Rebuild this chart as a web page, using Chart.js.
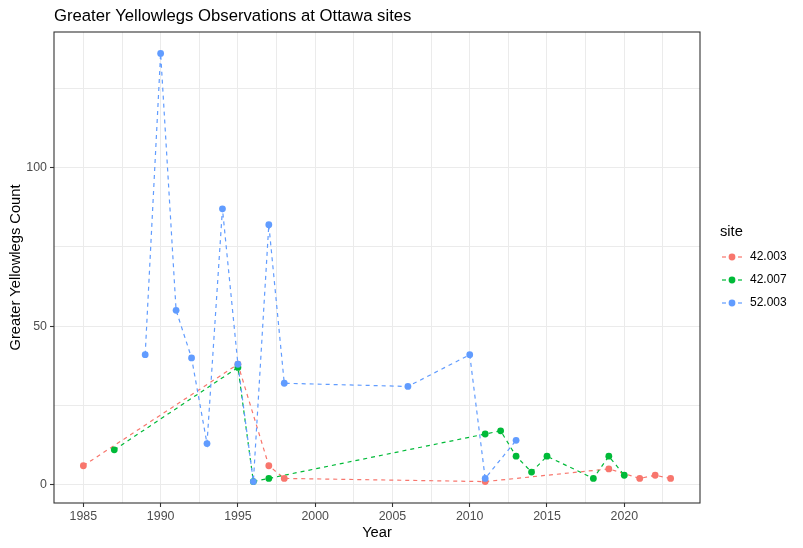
<!DOCTYPE html>
<html>
<head>
<meta charset="utf-8">
<script src="https://cdn.jsdelivr.net/npm/chart.js@4.4.1/dist/chart.umd.min.js"></script>
<style>
  body { margin: 0; background: #ffffff; }
  canvas { display: block; }
</style>
</head>
<body>
<canvas id="chartYellowlegs" width="803" height="548"></canvas>
<script>
// dados
const sites = ['42.003', '42.007', '52.003'];
const siteColors = ['#F8766D', '#00BA38', '#619CFF'];

const years42003 = [1985, 1995, 1997, 1998, 2011, 2019, 2021, 2022, 2023];
const counts42003 = [6, 38, 6, 2, 1, 5, 2, 3, 2];

const years42007 = [1987, 1995, 1996, 1997, 2011, 2012, 2013, 2014, 2015, 2018, 2019, 2020];
const counts42007 = [11, 37, 1, 2, 16, 17, 9, 4, 9, 2, 9, 3];

const years52003 = [1989, 1990, 1991, 1992, 1993, 1994, 1995, 1996, 1997, 1998, 2006, 2010, 2011, 2013];
const counts52003 = [41, 136, 55, 40, 13, 87, 38, 1, 82, 32, 31, 41, 2, 14];

const xMajor = [1985, 1990, 1995, 2000, 2005, 2010, 2015, 2020];
const xMinor = [1987.5, 1992.5, 1997.5, 2002.5, 2007.5, 2012.5, 2017.5, 2022.5];
const yMajor = [0, 50, 100];
const yMinor = [25, 75, 125];

const chartTitle = 'Greater Yellowlegs Observations at Ottawa sites';

function toPoints(xs, ys) {
  return xs.map(function (x, i) { return { x: x, y: ys[i] }; });
}

const seriesData = [
  toPoints(years42003, counts42003),
  toPoints(years42007, counts42007),
  toPoints(years52003, counts52003)
];

const datasets = [];
// linhas tracejadas primeiro, pontos por cima (como no ggplot)
seriesData.forEach(function (pts, i) {
  datasets.push({
    label: sites[i],
    data: pts,
    borderColor: siteColors[i],
    borderWidth: 1.2,
    borderDash: [4, 4],
    pointRadius: 0,
    fill: false,
    tension: 0,
    order: 12 - i
  });
});
seriesData.forEach(function (pts, i) {
  datasets.push({
    label: sites[i] + ' pts',
    data: pts,
    showLine: false,
    borderColor: siteColors[i],
    backgroundColor: siteColors[i],
    pointBackgroundColor: siteColors[i],
    pointBorderWidth: 0,
    pointRadius: 3.4,
    order: 3 - i
  });
});

function mergeTicks(a, b) {
  return a.concat(b).sort(function (p, q) { return p - q; }).map(function (v) { return { value: v }; });
}

const tickFont = { family: 'Liberation Sans, Arial, sans-serif', size: 12.4 };
const titleFont = { family: 'Liberation Sans, Arial, sans-serif', size: 14.7 };

const panelPlugin = {
  id: 'panel',
  afterDraw: function (chart) {
    const ctx = chart.ctx;
    const a = chart.chartArea;
    ctx.save();
    // borda do painel
    ctx.strokeStyle = '#333333';
    ctx.lineWidth = 1.1;
    ctx.strokeRect(a.left, a.top, a.right - a.left, a.bottom - a.top);

    // titulo
    ctx.fillStyle = '#000000';
    ctx.font = '16.7px "Liberation Sans", Arial, sans-serif';
    ctx.textAlign = 'left';
    ctx.textBaseline = 'middle';
    ctx.fillText(chartTitle, a.left, 16);

    // legenda
    ctx.font = '14.7px "Liberation Sans", Arial, sans-serif';
    ctx.fillText('site', 720, 232);
    ctx.font = '12px "Liberation Sans", Arial, sans-serif';
    const rows = [257, 280, 303];
    sites.forEach(function (s, i) {
      const y = rows[i];
      ctx.strokeStyle = siteColors[i];
      ctx.lineWidth = 1.2;
      ctx.setLineDash([4, 4]);
      ctx.beginPath();
      ctx.moveTo(722, y);
      ctx.lineTo(742, y);
      ctx.stroke();
      ctx.setLineDash([]);
      ctx.fillStyle = siteColors[i];
      ctx.beginPath();
      ctx.arc(732, y, 3.4, 0, Math.PI * 2);
      ctx.fill();
      ctx.fillStyle = '#000000';
      ctx.fillText(s, 750, y);
    });
    ctx.restore();
  }
};

const chartYellowlegs = document.getElementById('chartYellowlegs');

new Chart(chartYellowlegs, {
  type: 'line',
  data: { datasets: datasets },
  options: {
    responsive: false,
    animation: false,
    layout: { padding: { top: 32, right: 103, left: 0, bottom: 0 } },
    plugins: {
      legend: { display: false },
      tooltip: { enabled: false },
      title: { display: false }
    },
    scales: {
      x: {
        type: 'linear',
        min: 1983.1,
        max: 2024.9,
        afterBuildTicks: function (scale) { scale.ticks = mergeTicks(xMajor, xMinor); },
        afterFit: function (scale) { scale.height = 45; },
        border: { display: false },
        grid: {
          color: '#EBEBEB',
          lineWidth: 1,
          tickColor: function (c) { return xMajor.indexOf(c.tick.value) >= 0 ? '#333333' : 'rgba(0,0,0,0)'; },
          tickLength: 4,
          tickWidth: 1.1
        },
        ticks: {
          autoSkip: false,
          maxRotation: 0,
          padding: 2,
          color: '#4D4D4D',
          font: tickFont,
          callback: function (v) { return xMajor.indexOf(v) >= 0 ? String(v) : ''; }
        },
        title: {
          display: true,
          text: 'Year',
          color: '#000000',
          font: titleFont,
          padding: { top: 0, bottom: 6.6 }
        }
      },
      y: {
        type: 'linear',
        min: -5.75,
        max: 142.75,
        afterBuildTicks: function (scale) { scale.ticks = mergeTicks(yMajor, yMinor); },
        afterFit: function (scale) { scale.width = 54; },
        border: { display: false },
        grid: {
          color: '#EBEBEB',
          lineWidth: 1,
          tickColor: function (c) { return yMajor.indexOf(c.tick.value) >= 0 ? '#333333' : 'rgba(0,0,0,0)'; },
          tickLength: 4,
          tickWidth: 1.1
        },
        ticks: {
          autoSkip: false,
          padding: 3,
          color: '#4D4D4D',
          font: tickFont,
          callback: function (v) { return yMajor.indexOf(v) >= 0 ? String(v) : ''; }
        },
        title: {
          display: true,
          text: 'Greater Yellowlegs Count',
          color: '#000000',
          font: titleFont,
          padding: { top: 7.2, bottom: 0 }
        }
      }
    }
  },
  plugins: [panelPlugin]
});
</script>
</body>
</html>
